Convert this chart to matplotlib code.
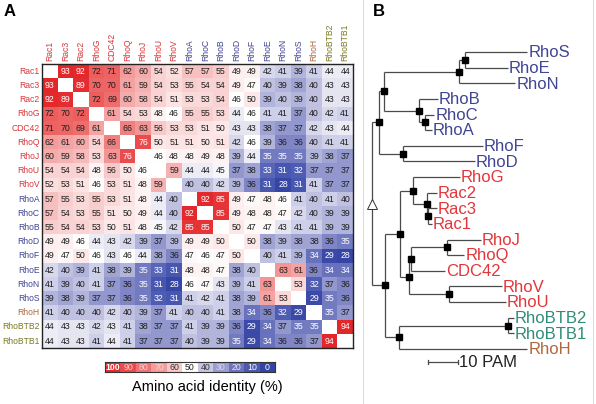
import numpy as np
import matplotlib
matplotlib.use("Agg")
import matplotlib.pyplot as plt
from matplotlib.colors import LinearSegmentedColormap, Normalize

plt.rcParams['font.family'] = ['Liberation Sans', 'DejaVu Sans']

# ---------------- data ----------------
names = ["Rac1", "Rac3", "Rac2", "RhoG", "CDC42", "RhoQ", "RhoJ", "RhoU", "RhoV",
         "RhoA", "RhoC", "RhoB", "RhoD", "RhoF", "RhoE", "RhoN", "RhoS", "RhoH",
         "RhoBTB2", "RhoBTB1"]

identity = [
    [0, 93, 92, 72, 71, 62, 60, 54, 52, 57, 57, 55, 49, 49, 42, 41, 39, 41, 44, 44],
    [93, 0, 89, 70, 70, 61, 59, 54, 53, 55, 54, 54, 49, 47, 40, 39, 38, 40, 43, 43],
    [92, 89, 0, 72, 69, 60, 58, 54, 51, 53, 53, 54, 46, 50, 39, 40, 39, 40, 43, 43],
    [72, 70, 72, 0, 61, 54, 53, 48, 46, 55, 55, 53, 44, 46, 41, 41, 37, 40, 42, 41],
    [71, 70, 69, 61, 0, 66, 63, 56, 53, 53, 51, 50, 43, 43, 38, 37, 37, 42, 43, 44],
    [62, 61, 60, 54, 66, 0, 76, 50, 51, 51, 50, 51, 42, 46, 39, 36, 36, 40, 41, 41],
    [60, 59, 58, 53, 63, 76, 0, 46, 48, 48, 49, 48, 39, 44, 35, 35, 35, 39, 38, 37],
    [54, 54, 54, 48, 56, 50, 46, 0, 59, 44, 44, 45, 37, 38, 33, 31, 32, 37, 37, 37],
    [52, 53, 51, 46, 53, 51, 48, 59, 0, 40, 40, 42, 39, 36, 31, 28, 31, 41, 37, 37],
    [57, 55, 53, 55, 53, 51, 48, 44, 40, 0, 92, 85, 49, 47, 48, 46, 41, 40, 41, 40],
    [57, 54, 53, 55, 51, 50, 49, 44, 40, 92, 0, 85, 49, 48, 48, 47, 42, 40, 39, 39],
    [55, 54, 54, 53, 50, 51, 48, 45, 42, 85, 85, 0, 50, 47, 47, 43, 41, 41, 39, 39],
    [49, 49, 46, 44, 43, 42, 39, 37, 39, 49, 49, 50, 0, 50, 38, 39, 38, 38, 36, 35],
    [49, 47, 50, 46, 43, 46, 44, 38, 36, 47, 46, 47, 50, 0, 40, 41, 39, 34, 29, 28],
    [42, 40, 39, 41, 38, 39, 35, 33, 31, 48, 48, 47, 38, 40, 0, 63, 61, 36, 34, 34],
    [41, 39, 40, 41, 37, 36, 35, 31, 28, 46, 47, 43, 39, 41, 63, 0, 53, 32, 37, 36],
    [39, 38, 39, 37, 37, 36, 35, 32, 31, 41, 42, 41, 38, 39, 61, 53, 0, 29, 35, 36],
    [41, 40, 40, 40, 42, 40, 39, 37, 41, 40, 40, 41, 38, 34, 36, 32, 29, 0, 35, 37],
    [44, 43, 43, 42, 43, 41, 38, 37, 37, 41, 39, 39, 36, 29, 34, 37, 35, 35, 0, 94],
    [44, 43, 43, 41, 44, 41, 37, 37, 37, 40, 39, 39, 35, 29, 34, 36, 36, 37, 94, 0],
]

legend_values = [100, 90, 80, 70, 60, 50, 40, 30, 20, 10, 0]

newick = ("(((((RhoS:20.7,RhoE:14.3):2,RhoN:18.7):25,(RhoB:6.3,(RhoC:3,RhoA:2.3):2):11.7):1.7,"
          "(RhoF:26.7,RhoD:24):8):2.3,"
          "(((RhoG:15.7,(Rac2:3.3,(Rac3:3,Rac1:1.3):0.3):4.7):4.3,"
          "(((RhoJ:11.3,RhoQ:5.7):12,CDC42:11.3):0.7,(RhoV:17.7,RhoU:19):13.3):3):5,"
          "((RhoBTB2:2,RhoBTB1:2):36.3,RhoH:42.7):4.7):4.3);")
scale_len = 10

# ---------------- colours ----------------
RED = "#d9363a"
BLUE = "#3f4592"
BROWN = "#b0683e"
OLIVE = "#7a7a22"
TEAL = "#2f8c78"
group_heat = {n: RED for n in names[:9]}
group_heat.update({n: BLUE for n in names[9:17]})
group_heat["RhoH"] = BROWN
group_heat["RhoBTB2"] = OLIVE
group_heat["RhoBTB1"] = OLIVE
group_tree = dict(group_heat)
group_tree.update({n: "#e3353a" for n in names[:9]})
group_tree["RhoBTB2"] = TEAL
group_tree["RhoBTB1"] = TEAL

stops = [(28, "#3646a6"), (32, "#4f5db4"), (36, "#8288c6"), (40, "#c3c4e3"),
         (43, "#e6e6f3"), (46, "#ffffff"), (50, "#fde9e9"), (56, "#f8c9c9"),
         (62, "#f39c9c"), (70, "#ee6666"), (80, "#e83b3d"), (100, "#e01e22")]
vmin, vmax = 28, 100
cmap = LinearSegmentedColormap.from_list(
    "id", [((v - vmin) / (vmax - vmin), c) for v, c in stops])
cmap.set_bad("white")
norm = Normalize(vmin, vmax)

legend_colors = ["#e32a2c", "#ea4b4c", "#ef7274", "#f49c9c", "#f9caca", "#ffffff",
                 "#c6c7e5", "#9a9dd0", "#6d74bd", "#4a58b0", "#3444a4"]
legend_txt = ["white", "#f8d0d0", "#f8d0d0", "#f8d8d8", "#333333", "#222222",
              "#333333", "#d8d8ee", "#e8e8f6", "white", "white"]

W, H = 596, 404
fig = plt.figure(figsize=(W / 100, H / 100), dpi=100)


def fax(x0, y0, x1, y1):
    return fig.add_axes([x0 / W, 1 - y1 / H, (x1 - x0) / W, (y1 - y0) / H])


# ---------------- heatmap ----------------
n = len(names)
M = np.array(identity, dtype=float)
np.fill_diagonal(M, np.nan)
ax = fax(42, 64, 353, 348)
ax.imshow(np.ma.masked_invalid(M), cmap=cmap, norm=norm, aspect="auto",
          extent=(0, n, n, 0), interpolation="nearest")
for i in range(n):
    for j in range(n):
        if i == j:
            continue
        v = identity[i][j]
        col = "white" if (v >= 75 or v <= 35) else "#1e1e1e"
        ax.text(j + 0.5, i + 0.52, str(v), ha="center", va="center",
                fontsize=6.3, color=col)
for k, nm in enumerate(names):
    ax.text(-0.15, k + 0.52, nm, ha="right", va="center", fontsize=6.2,
            color=group_heat[nm], clip_on=False)
    ax.text(k + 0.5, -0.2, nm, ha="center", va="bottom", rotation=90,
            fontsize=6.2, color=group_heat[nm], clip_on=False)
ax.set_xticks([])
ax.set_yticks([])
for s in ax.spines.values():
    s.set_linewidth(1.0)
    s.set_color("#222222")

# ---------------- legend bar ----------------
cax = fax(105, 362, 275, 372)
nl = len(legend_values)
for k, (v, c) in enumerate(zip(legend_values, legend_colors)):
    cax.add_patch(plt.Rectangle((k, 0), 1, 1, facecolor=c, edgecolor="none"))
    cax.text(k + 0.5, 0.5, str(v), ha="center", va="center", fontsize=6.3,
             color=legend_txt[k], fontweight="bold" if v == 100 else "normal")
cax.set_xlim(0, nl)
cax.set_ylim(0, 1)
cax.set_xticks([])
cax.set_yticks([])
for s in cax.spines.values():
    s.set_linewidth(0.8)
    s.set_color("#333333")
fig.text(207 / W, 1 - 387 / H, "Amino acid identity (%)", ha="center",
         va="center", fontsize=10.5)

# panel letters
fig.text(10 / W, 1 - 12 / H, "A", ha="center", va="center", fontsize=12,
         fontweight="bold")
fig.text(379 / W, 1 - 12 / H, "B", ha="center", va="center", fontsize=12,
         fontweight="bold")

# separators
for xp in (363, 593):
    fig.add_artist(plt.Line2D([xp / W, xp / W], [0, 1], color="#dcdcdc", lw=0.8))


# ---------------- tree ----------------
def parse(s):
    pos = 0

    def node():
        nonlocal pos
        children = []
        if s[pos] == "(":
            pos += 1
            children.append(node())
            while s[pos] == ",":
                pos += 1
                children.append(node())
            pos += 1
        name = ""
        while s[pos] not in ":,);":
            name += s[pos]
            pos += 1
        length = 0.0
        if s[pos] == ":":
            pos += 1
            num = ""
            while s[pos] not in ",);":
                num += s[pos]
                pos += 1
            length = float(num)
        return {"name": name, "len": length, "children": children}

    return node()


root = parse(newick)
leaf_counter = [0]


def layout(nd, x0):
    nd["x"] = x0 + nd["len"]
    if not nd["children"]:
        nd["y"] = leaf_counter[0]
        leaf_counter[0] += 1
    else:
        for c in nd["children"]:
            layout(c, nd["x"])
        nd["y"] = (nd["children"][0]["y"] + nd["children"][-1]["y"]) / 2


layout(root, 0.0)

px_per_unit = 3.0
leaf_step = 15.63
root_px, leaf0_px = 372, 52
tx0, tx1, ty0, ty1 = 366, 596, 30, 380
tax = fax(tx0, ty0, tx1, ty1)
tax.set_xlim((tx0 - root_px) / px_per_unit, (tx1 - root_px) / px_per_unit)
tax.set_ylim((ty1 - leaf0_px) / leaf_step, (ty0 - leaf0_px) / leaf_step)
tax.axis("off")

LC = "#4a4a4a"
LW = 0.9


def draw(nd, is_root=False):
    if nd["children"]:
        ys = [c["y"] for c in nd["children"]]
        tax.plot([nd["x"], nd["x"]], [min(ys), max(ys)], color=LC, lw=LW,
                 solid_capstyle="butt")
        for c in nd["children"]:
            tax.plot([nd["x"], c["x"]], [c["y"], c["y"]], color=LC, lw=LW,
                     solid_capstyle="butt")
            draw(c)
        if is_root:
            tax.plot(nd["x"], nd["y"], marker="^", ms=7, mfc="white",
                     mec="#333333", mew=0.7, zorder=5)
        else:
            tax.plot(nd["x"], nd["y"], marker="s", ms=5, color="black", zorder=5)
    else:
        tax.text(nd["x"] + 0.35, nd["y"] + 0.05, nd["name"], ha="left",
                 va="center", fontsize=12, color=group_tree[nd["name"]])


draw(root, is_root=True)

# scale bar
sb_x0 = (428 - root_px) / px_per_unit
sb_y = (362 - leaf0_px) / leaf_step
tax.plot([sb_x0, sb_x0 + scale_len], [sb_y, sb_y], color=LC, lw=LW)
for xx in (sb_x0, sb_x0 + scale_len):
    tax.plot([xx, xx], [sb_y - 0.12, sb_y + 0.12], color=LC, lw=LW)
tax.text(sb_x0 + scale_len + 0.2, sb_y + 0.05, "10 PAM", ha="left",
         va="center", fontsize=12, color="#222222")

fig.savefig("out.png", dpi=100)
